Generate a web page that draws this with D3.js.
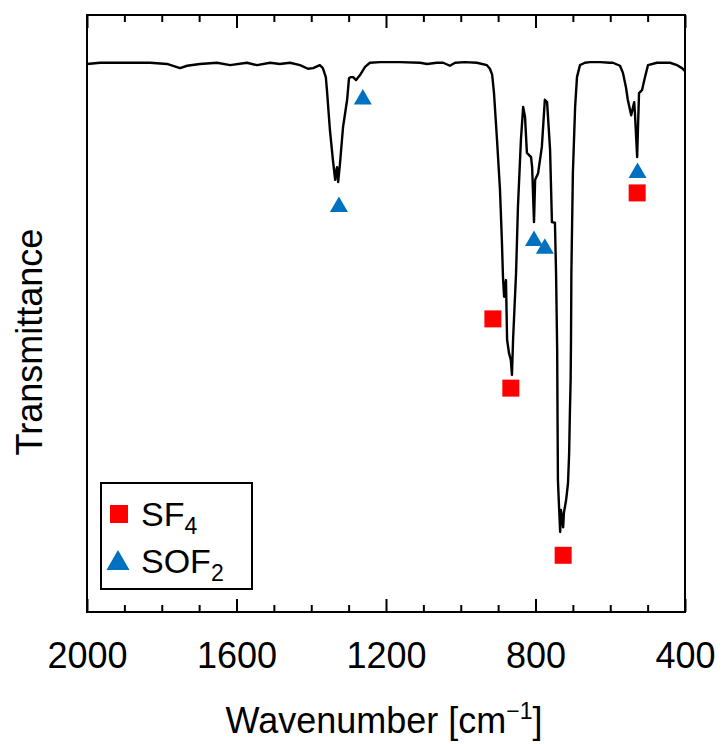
<!DOCTYPE html>
<html>
<head>
<meta charset="utf-8">
<script src="https://cdn.jsdelivr.net/npm/d3@7"></script>
<style>
  html, body { margin: 0; padding: 0; background: #fff; }
  svg { display: block; font-family: "Liberation Sans", Arial, sans-serif; }
</style>
</head>
<body>
<svg id="chart" width="723" height="744"></svg>
<script>
// ---- data ----
const spectrumWavenumber = [
  2000, 1965, 1912, 1831, 1786, 1751, 1732, 1698, 1652, 1617, 1572, 1545, 1510, 1484, 1457, 1430,
  1409, 1395, 1377, 1369, 1361, 1358, 1350, 1342, 1336, 1334, 1331, 1328, 1323, 1315, 1304, 1299,
  1294, 1288, 1280, 1270, 1256, 1243, 1216, 1197, 1163, 1109, 1090, 1064, 1047, 1029, 1015, 989,
  957, 930, 922, 916, 911, 903, 895, 890, 887, 884, 879, 876, 871, 866, 863, 860, 852, 847, 839,
  833, 828, 823, 812, 809, 804, 801, 793, 783, 775, 769, 761, 756, 748, 745, 742, 741, 740, 737,
  734, 732, 726, 724, 718, 713, 710, 708, 706, 705, 704, 700, 694, 689, 681, 668, 654, 627, 601,
  593, 574, 566, 558, 553, 544, 539, 536, 534, 528, 526, 523, 515, 507, 499, 475, 440, 421, 408, 400
];
const spectrumTransmittance = [
  91.8, 92.0, 92.0, 92.0, 91.8, 91.1, 91.5, 91.8, 92.0, 91.6, 92.0, 91.6, 92.0, 91.8, 92.0, 91.6,
  91.0, 91.1, 91.6, 91.1, 89.6, 87.4, 80.7, 75.7, 72.4, 73.7, 74.5, 72.0, 75.2, 81.2, 85.8, 89.4,
  89.6, 89.6, 89.1, 89.9, 91.3, 92.0, 92.1, 92.1, 92.1, 92.0, 91.8, 92.0, 92.0, 91.5, 92.0, 92.1,
  92.0, 91.6, 91.0, 90.0, 86.9, 79.1, 70.7, 62.3, 56.1, 52.8, 55.6, 45.6, 43.4, 42.2, 39.7, 45.6, 56.8, 67.8, 79.1,
  84.6, 82.9, 76.9, 76.2, 74.5, 65.3, 72.4, 73.5, 77.9, 85.8, 85.4, 77.4, 65.3, 65.2, 56.8, 43.9, 32.2, 22.1, 17.6,
  13.4, 17.1, 14.2, 16.6, 18.8, 21.6, 26.6, 33.3, 38.9, 45.6, 56.8, 73.5, 84.6, 89.6, 91.6, 92.0, 92.1, 92.1, 92.0,
  92.0, 91.5, 90.3, 87.9, 85.8, 83.2, 84.6, 85.4, 83.6, 76.2, 80.7, 86.9, 87.4, 89.6, 91.6, 92.0, 92.0, 91.6, 91.1, 90.6
];

const sf4Wavenumber = [914, 866, 726, 528];
const sf4Transmittance = [49.1, 37.5, 9.5, 70.2];

const sof2Wavenumber = [1262, 1326, 804, 775, 527];
const sof2Transmittance = [86.3, 68.3, 62.6, 61.3, 74.0];

const majorTicks = [2000, 1600, 1200, 800, 400];
const minorTicks = [1900, 1800, 1700, 1500, 1400, 1300, 1100, 1000, 900, 700, 600, 500];

const legendNames = ["SF", "SOF"];
const legendSubs = ["4", "2"];

// ---- layout ----
const svg = d3.select("#chart");
const pLeft = 87, pTop = 15, pRight = 685, pBottom = 612;
const FONT = 36;

const x = d3.scaleLinear().domain([2000, 400]).range([pLeft, pRight]);
const y = d3.scaleLinear().domain([0, 100]).range([pBottom, pTop]);

const RED = "#ff0000", BLUE = "#0070c0";

// ticks (inward) - bottom
const gB = svg.append("g").attr("transform", `translate(0,${pBottom})`);
gB.call(d3.axisBottom(x).tickValues(minorTicks).tickSize(-7).tickFormat(""));
const gBM = svg.append("g").attr("transform", `translate(0,${pBottom})`);
gBM.call(d3.axisBottom(x).tickValues(majorTicks).tickSize(-13).tickPadding(30).tickFormat(d3.format("d")));
// top
const gT = svg.append("g").attr("transform", `translate(0,${pTop})`);
gT.call(d3.axisTop(x).tickValues(minorTicks).tickSize(-7).tickFormat(""));
const gTM = svg.append("g").attr("transform", `translate(0,${pTop})`);
gTM.call(d3.axisTop(x).tickValues(majorTicks).tickSize(-13).tickFormat(""));

svg.selectAll(".domain").remove();
svg.selectAll(".tick line").attr("stroke", "#000").attr("stroke-width", 2);
gBM.selectAll(".tick text")
  .attr("font-size", FONT).attr("fill", "#000")
  .style("font-family", '"Liberation Sans", Arial, sans-serif');

// frame
svg.append("rect")
  .attr("x", pLeft).attr("y", pTop)
  .attr("width", pRight - pLeft).attr("height", pBottom - pTop)
  .attr("fill", "none").attr("stroke", "#000").attr("stroke-width", 2);

// spectrum
const pts = spectrumWavenumber.map((w, i) => [w, spectrumTransmittance[i]]);
svg.append("path")
  .datum(pts)
  .attr("fill", "none")
  .attr("stroke", "#000")
  .attr("stroke-width", 2.4)
  .attr("stroke-linejoin", "round")
  .attr("d", d3.line().x(d => x(d[0])).y(d => y(d[1])));

// markers
const sq = d3.symbol().type(d3.symbolSquare).size(17 * 17);
const tri = d3.symbol().type(d3.symbolTriangle).size(140);
const triOff = Math.sqrt(140 / (Math.sqrt(3) * 3)) / 2;

svg.append("g").selectAll("path")
  .data(sf4Wavenumber.map((w, i) => [w, sf4Transmittance[i]]))
  .join("path")
  .attr("d", sq)
  .attr("fill", RED)
  .attr("transform", d => `translate(${x(d[0])},${y(d[1])})`);

svg.append("g").selectAll("path")
  .data(sof2Wavenumber.map((w, i) => [w, sof2Transmittance[i]]))
  .join("path")
  .attr("d", tri)
  .attr("fill", BLUE)
  .attr("transform", d => `translate(${x(d[0])},${y(d[1]) + triOff})`);

// axis titles
const xt = svg.append("text")
  .attr("x", (pLeft + pRight) / 2 - 2).attr("y", 733)
  .attr("text-anchor", "middle").attr("font-size", FONT).attr("fill", "#000");
xt.append("tspan").text("Wavenumber [cm");
xt.append("tspan").attr("font-size", 23).attr("dy", -14).text("\u22121");
xt.append("tspan").attr("dy", 14).text("]");

svg.append("text")
  .attr("transform", "translate(42,342) rotate(-90)")
  .attr("text-anchor", "middle").attr("font-size", FONT).attr("fill", "#000")
  .text("Transmittance");

// legend
const lg = svg.append("g");
lg.append("rect")
  .attr("x", 101).attr("y", 483).attr("width", 151).attr("height", 106)
  .attr("fill", "#fff").attr("stroke", "#000").attr("stroke-width", 2);
lg.append("path").attr("d", d3.symbol().type(d3.symbolSquare).size(18 * 18)())
  .attr("fill", RED).attr("transform", "translate(119,514)");
const triL = 230;
lg.append("path").attr("d", d3.symbol().type(d3.symbolTriangle).size(triL)())
  .attr("fill", BLUE)
  .attr("transform", `translate(118,${560 + Math.sqrt(triL / (Math.sqrt(3) * 3)) / 2})`);
const legendY = [526, 573];
legendNames.forEach((n, i) => {
  const t = lg.append("text").attr("x", 141).attr("y", legendY[i])
    .attr("font-size", 34).attr("fill", "#000");
  t.append("tspan").text(n);
  t.append("tspan").attr("font-size", 23).attr("dy", 8).text(legendSubs[i]);
});
</script>
</body>
</html>
